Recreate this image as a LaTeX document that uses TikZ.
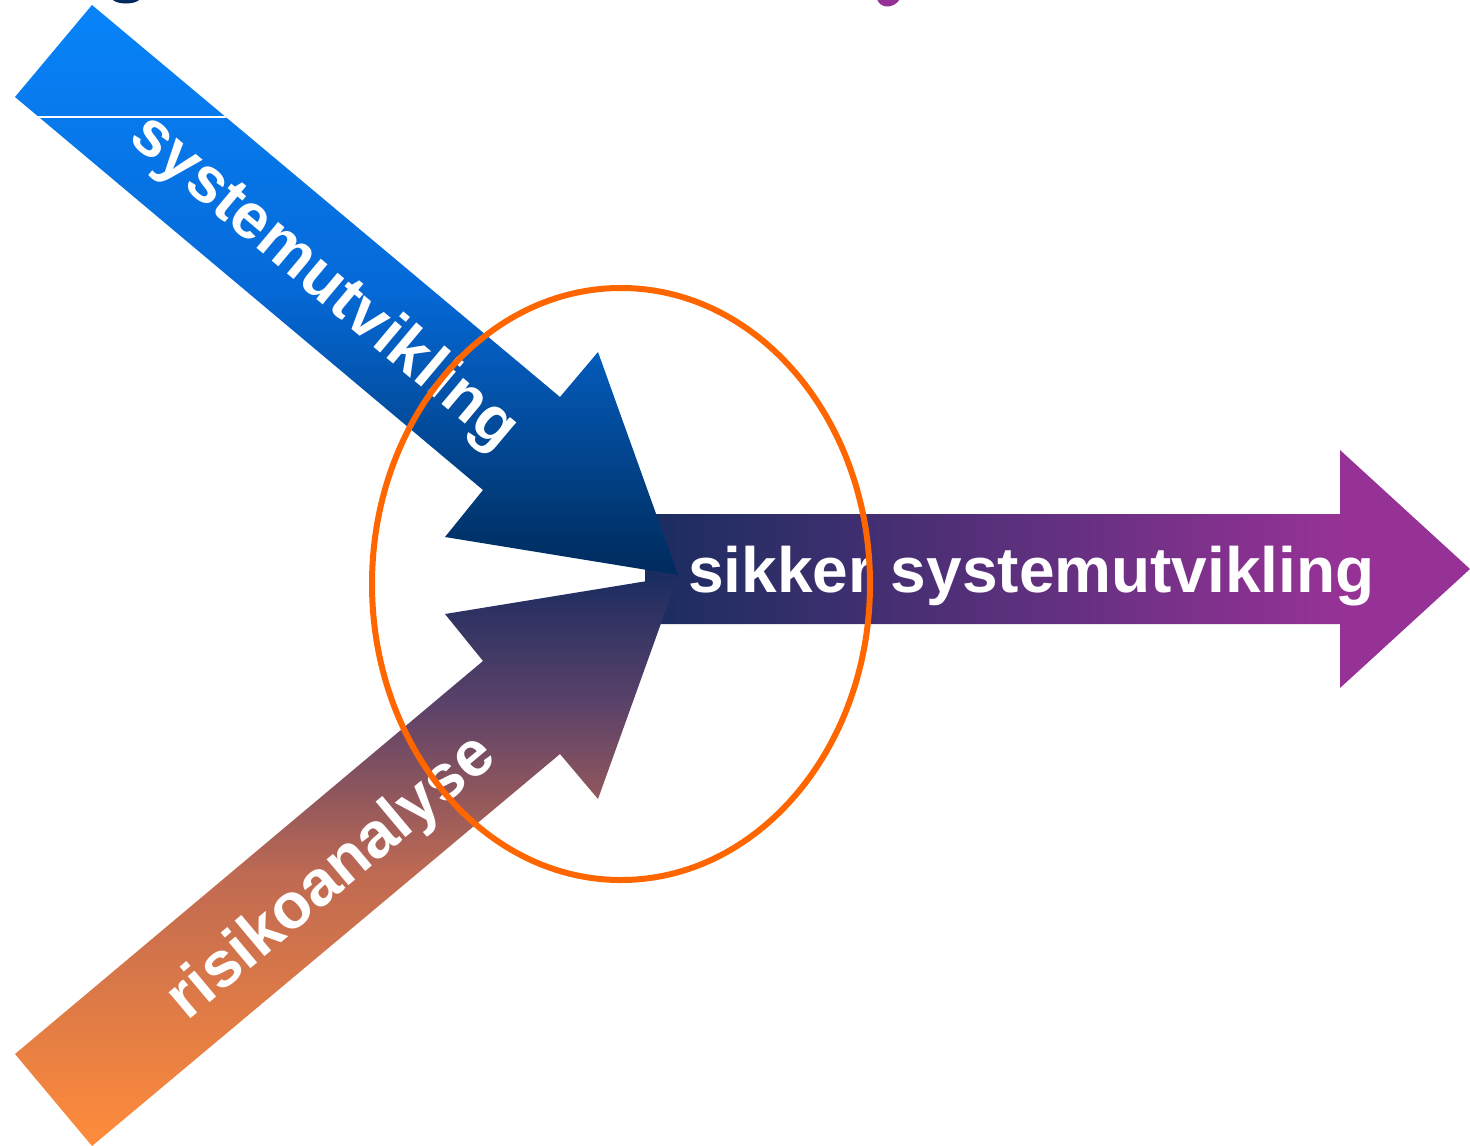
\documentclass[tikz,border=0pt]{standalone}
\usepackage{fontspec}
\newfontfamily\arialfont{Liberation Sans}
\definecolor{bnavy}{RGB}{0,42,95}
\definecolor{bdark}{RGB}{0,50,105}
\definecolor{bmid}{RGB}{5,105,215}
\definecolor{btop}{RGB}{8,132,250}
\definecolor{onavy}{RGB}{28,44,96}
\definecolor{opurp}{RGB}{92,66,105}
\definecolor{omid}{RGB}{192,106,82}
\definecolor{obot}{RGB}{255,140,58}
\definecolor{pleft}{RGB}{25,45,95}
\definecolor{pright}{RGB}{150,50,150}
\definecolor{ring}{RGB}{255,102,0}
\pgfdeclareverticalshading{blueshade}{100bp}{color(0bp)=(bnavy); color(25bp)=(bnavy); color(28bp)=(bdark); color(50bp)=(bmid); color(75bp)=(btop); color(100bp)=(btop)}
\pgfdeclareverticalshading{orangeshade}{100bp}{color(0bp)=(obot); color(25bp)=(obot); color(48.7bp)=(omid); color(63.6bp)=(opurp); color(75bp)=(onavy); color(100bp)=(onavy)}
\pgfdeclarehorizontalshading{purpleshade}{100bp}{color(0bp)=(pleft); color(25bp)=(pleft); color(67bp)=(pright); color(100bp)=(pright)}
\begin{document}
\begin{tikzpicture}[x=1pt,y=-1pt,
  arrowlabel/.style={text=white,inner sep=0pt,font=\arialfont\bfseries\fontsize{64}{64}\selectfont},
  ringstyle/.style={draw=ring,line width=6pt}]
\useasboundingbox (0,0) rectangle (1470,1146);
% fragments of a cut-off title at the top edge
\begin{scope}
\clip (0,0) rectangle (1470,1146);
\fill[bnavy] (112,-1) .. controls (116,5) and (136,5) .. (140,-1) -- cycle;
\fill[pright] (877,-1) .. controls (880,9) and (894,9) .. (900,-1) -- cycle;
\end{scope}
% purple output arrow
\path[shading=purpleshade] (645,514) -- (1340,514) -- (1340,450) -- (1470,569) -- (1340,688) -- (1340,624) -- (645,624) -- cycle;
% blue input arrow
\path[shading=blueshade] (92,5) -- (560,397) -- (598,352) -- (678,575) -- (445,537) -- (483,490) -- (15,97) -- cycle;
\begin{scope}
\clip (92,5) -- (560,397) -- (598,352) -- (678,575) -- (445,537) -- (483,490) -- (15,97) -- cycle;
\draw[white,line width=1.2pt] (0,117) -- (300,117);
\end{scope}
% orange input arrow
\path[shading=orangeshade] (15,1054) -- (483,661) -- (445,614) -- (678,576) -- (598,799) -- (560,754) -- (92,1146) -- cycle;
% labels
\node[arrowlabel,anchor=base,rotate=-40] (lblA) at (313,296) {systemutvikling};
\node[arrowlabel,anchor=base,rotate=40] (lblB) at (343,891) {risikoanalyse};
\node[arrowlabel,anchor=base west] (lblC) at (688,592) {sikker systemutvikling};
% ring
\draw[ringstyle] (621,584) ellipse [x radius=249, y radius=296];
\end{tikzpicture}
\end{document}
